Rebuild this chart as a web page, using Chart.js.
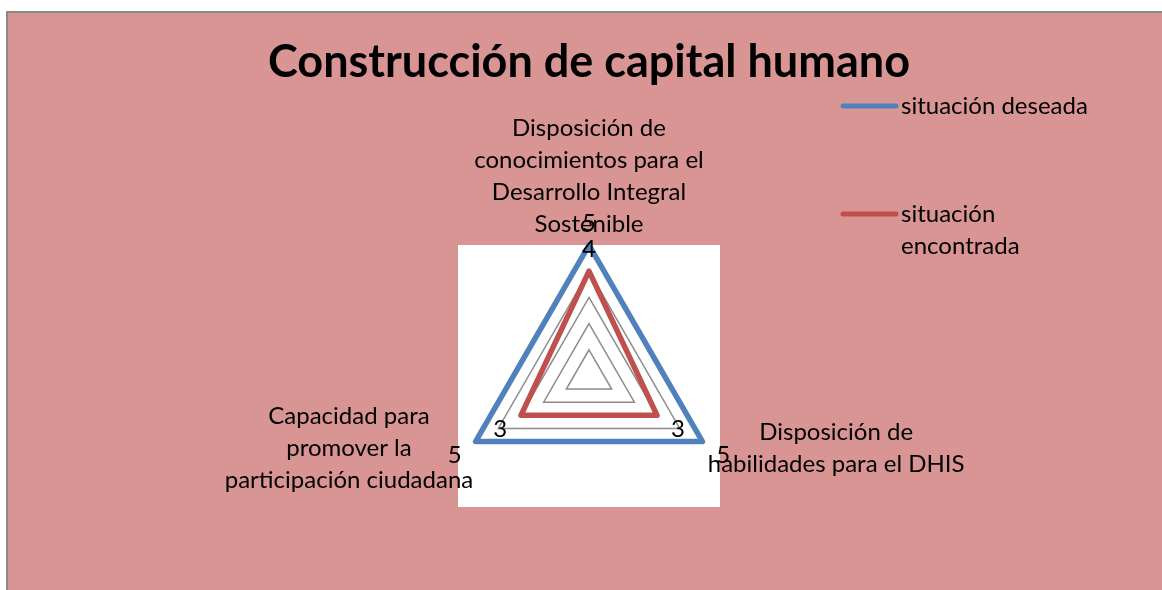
<!DOCTYPE html>
<html>
<head>
<meta charset="utf-8">
<script src="https://cdn.jsdelivr.net/npm/chart.js@4"></script>
<style>
body { margin: 0; background: #fff; }
#frame { position: absolute; left: 6px; top: 11px; right: 0; bottom: 0; background: #D99594; border-left: 2px solid #8a8a8a; border-top: 2px solid #8a8a8a; }
canvas { position: absolute; left: 0; top: 0; }
</style>
</head>
<body>
<div id="frame"></div>
<canvas id="chart" width="1162" height="590"></canvas>
<script>
// categories run clockwise from the top
var categories = [
    ['Disposición de', 'conocimientos para el', 'Desarrollo Integral', 'Sostenible'],
    ['Disposición de', 'habilidades para el DHIS'],
    ['Capacidad para', 'promover la', 'participación ciudadana']
];
var desired = [5, 5, 5];
var found = [4, 3, 3];
var seriesNames = ['situación deseada', 'situación encontrada'];
var seriesColors = ['#4F81BD', '#C0504D'];
var scaleMin = 0, scaleMax = 5, scaleStep = 1;

var FONT = 'Lato, "Open Sans", sans-serif';
var TEXT_SIZE = 24;

function wrap(ctx, text, maxWidth)
{
    var words = text.split(' '), lines = [], line = '';

    words.forEach(function (w)
    {
        var test = line ? line + ' ' + w : w;
        if (line && ctx.measureText(test).width > maxWidth)
        {
            lines.push(line);
            line = w;
        }
        else line = test;
    });
    if (line) lines.push(line);

    return lines;
}

var plotBackground = {
    id: 'plotBackground',
    beforeDatasetsDraw: function (chart)
    {
        var s = chart.scales.r, ctx = chart.ctx, r = s.drawingArea;
        ctx.save();
        ctx.fillStyle = '#ffffff';
        ctx.fillRect(s.xCenter - r, s.yCenter - r, 2 * r, 2 * r);
        ctx.restore();
    }
};

// draw the grid on top of the white plot area
var gridOnTop = {
    id: 'gridOnTop',
    beforeDatasetsDraw: function (chart)
    {
        var s = chart.scales.r, ctx = chart.ctx;
        var n = chart.data.labels.length;
        ctx.save();
        ctx.strokeStyle = '#8c8c8c';
        ctx.lineWidth = 1.5;
        s.ticks.forEach(function (t)
        {
            if (t.value <= scaleMin) return;
            var d = s.getDistanceFromCenterForValue(t.value);
            ctx.beginPath();
            for (var i = 0; i < n; i++)
            {
                var p = s.getPointPosition(i, d);
                if (i == 0) ctx.moveTo(p.x, p.y); else ctx.lineTo(p.x, p.y);
            }
            ctx.closePath();
            ctx.stroke();
        });
        ctx.restore();
    }
};

var axisLabels = {
    id: 'axisLabels',
    afterDraw: function (chart)
    {
        var s = chart.scales.r, ctx = chart.ctx, lh = 32;
        ctx.save();
        ctx.font = TEXT_SIZE + 'px ' + FONT;
        ctx.fillStyle = '#000';
        ctx.textAlign = 'center';
        ctx.textBaseline = 'middle';
        chart.data.labels.forEach(function (lines, i)
        {
            var p = s.getPointPosition(i, s.drawingArea + 5);
            var w = Math.max.apply(null, lines.map(function (l) { return ctx.measureText(l).width; }));
            var cx, top;
            if (Math.abs(p.x - s.xCenter) < 2)
            {
                cx = p.x;
                top = p.y - lines.length * lh;
            }
            else
            {
                cx = p.x < s.xCenter ? p.x + 2 - w / 2 : p.x + 1 + w / 2;
                top = p.y + 4 - lines.length * lh / 2;
            }
            lines.forEach(function (l, k)
            {
                ctx.fillText(l, cx, top + lh * k + lh / 2);
            });
        });
        ctx.restore();
    }
};

var dataLabels = {
    id: 'dataLabels',
    afterDraw: function (chart)
    {
        var s = chart.scales.r, ctx = chart.ctx;
        ctx.save();
        ctx.font = TEXT_SIZE + 'px ' + FONT;
        ctx.fillStyle = '#000';
        ctx.textAlign = 'center';
        ctx.textBaseline = 'middle';
        chart.data.datasets.forEach(function (ds)
        {
            ds.data.forEach(function (v, i)
            {
                var p = s.getPointPosition(i, s.getDistanceFromCenterForValue(v) + 24);
                ctx.fillText(String(v), p.x, p.y + 2);
            });
        });
        ctx.restore();
    }
};

var sideLegend = {
    id: 'sideLegend',
    afterDraw: function (chart, args, opts)
    {
        var ctx = chart.ctx;
        ctx.save();
        ctx.font = TEXT_SIZE + 'px ' + FONT;
        ctx.textBaseline = 'middle';
        ctx.textAlign = 'left';
        chart.data.datasets.forEach(function (ds, i)
        {
            var y = opts.top + i * opts.step;
            ctx.strokeStyle = ds.borderColor;
            ctx.lineWidth = 5;
            ctx.lineCap = 'round';
            ctx.beginPath();
            ctx.moveTo(opts.left, y);
            ctx.lineTo(opts.left + opts.lineLength, y);
            ctx.stroke();
            ctx.fillStyle = '#000';
            wrap(ctx, ds.label, opts.maxWidth).forEach(function (l, k)
            {
                ctx.fillText(l, opts.left + opts.lineLength + 5, y + k * 32);
            });
        });
        ctx.restore();
    }
};

new Chart(document.getElementById('chart'), {
    type: 'radar',
    data: {
        labels: categories,
        datasets: [
            { label: seriesNames[0], data: desired, borderColor: seriesColors[0], borderWidth: 5.5, fill: false, pointRadius: 0, borderJoinStyle: 'round' },
            { label: seriesNames[1], data: found, borderColor: seriesColors[1], borderWidth: 5.5, fill: false, pointRadius: 0, borderJoinStyle: 'round' }
        ]
    },
    options: {
        responsive: false,
        animation: false,
        layout: { padding: { left: 16, right: 0, top: 0, bottom: 83 } },
        scales: {
            r: {
                min: scaleMin,
                max: scaleMax,
                ticks: { display: false, stepSize: scaleStep },
                grid: { display: false },
                angleLines: { display: false },
                pointLabels: { display: false }
            }
        },
        plugins: {
            title: {
                display: true,
                text: 'Construcción de capital humano',
                color: '#000',
                font: { family: FONT, size: 45, weight: 'bold', lineHeight: 1.2 },
                padding: { top: 35, bottom: 156 }
            },
            legend: { display: false },
            tooltip: { enabled: false },
            sideLegend: { left: 843, top: 106, step: 108, lineLength: 53, maxWidth: 205 }
        }
    },
    plugins: [plotBackground, gridOnTop, dataLabels, axisLabels, sideLegend]
});
</script>
</body>
</html>
